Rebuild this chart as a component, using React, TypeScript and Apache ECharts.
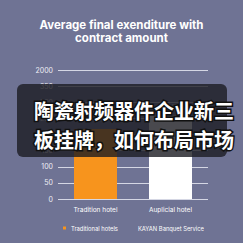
import React, { useEffect, useRef } from "react";
import * as echarts from "echarts";

const categories = ["Tradition hotel", "Auplicial hotel"];
const seriesNames = ["Traditional hotels", "KAYAN Banquet Service"];
const traditionalValues: (number | string)[] = [217, "-"];
const kayanValues: (number | string)[] = ["-", 258];
const barLabels = ["27.2%", "70.4%"];
const yTickLabels = ["0", "50", "100", "150", "200", "250", "300", "350", "2000"];
const titleLines = ["Average final exenditure with", "contract amount"];
const overlayLines = ["陶瓷射频器件企业新三", "板挂牌，如何布局市场"];

export default function App() {
  const ref = useRef<HTMLDivElement>(null);
  useEffect(() => {
    if (!ref.current) return;
    const chart = echarts.init(ref.current, null, { renderer: "svg" });
    const labelFor = (idx: number) => ({
      show: true,
      position: "top",
      distance: 6,
      color: "#cfcfd6",
      fontSize: 7,
      formatter: () => barLabels[idx],
    });
    chart.setOption({
      animation: false,
      backgroundColor: "#6f7394",
      title: {
        text: titleLines.join("\n"),
        left: "center",
        top: 13,
        textStyle: {
          color: "#ffffff",
          fontSize: 11.5,
          fontWeight: "bold",
          fontFamily: "Inter",
          lineHeight: 13,
        },
      },
      grid: { left: 58, right: 35, top: 70, bottom: 44 },
      xAxis: {
        type: "category",
        data: categories,
        axisLine: { show: false },
        axisTick: { show: false },
        axisLabel: { color: "#ffffff", fontSize: 6.5, margin: 7, fontFamily: "Inter" },
      },
      yAxis: {
        type: "value",
        min: 0,
        max: 400,
        interval: 50,
        axisLine: { show: false },
        axisTick: { show: false },
        axisLabel: {
          color: "#eeeef4",
          fontSize: 7,
          margin: 5,
          fontFamily: "Inter",
          formatter: (v: number) => yTickLabels[Math.round(v / 50)],
        },
        splitLine: { lineStyle: { color: "#d5d7e4", width: 1 } },
      },
      legend: {
        bottom: 7,
        left: 58,
        itemWidth: 3,
        itemHeight: 3,
        itemGap: 12,
        textStyle: { color: "#ffffff", fontSize: 5.8, fontFamily: "Inter" },
        data: [
          { name: seriesNames[0], icon: "rect" },
          { name: seriesNames[1], icon: "none" },
        ],
      },
      series: [
        {
          name: seriesNames[0],
          type: "bar",
          data: traditionalValues,
          barWidth: 43,
          barGap: "-100%",
          itemStyle: { color: "#f7941d" },
          label: labelFor(0),
        },
        {
          name: seriesNames[1],
          type: "bar",
          data: kayanValues,
          barWidth: 43,
          barGap: "-100%",
          itemStyle: { color: "#ffffff" },
          label: labelFor(1),
        },
      ],
      graphic: [
        {
          type: "rect",
          z: 100,
          shape: { x: 17, y: 84, width: 210, height: 73, r: 6 },
          style: { fill: "rgba(28,28,34,0.8)" },
        },
        {
          type: "text",
          z: 101,
          x: 34,
          y: 96,
          style: {
            text: overlayLines.join("\n"),
            fill: "#ffffff",
            stroke: "#111111",
            lineWidth: 3,
            font: 'bold 20px "Noto Sans CJK SC"',
            lineHeight: 29,
          },
        },
      ],
    });
    return () => chart.dispose();
  }, []);
  return <div ref={ref} style={{ width: 243, height: 243, position: "absolute", left: 0, top: 0 }} />;
}
